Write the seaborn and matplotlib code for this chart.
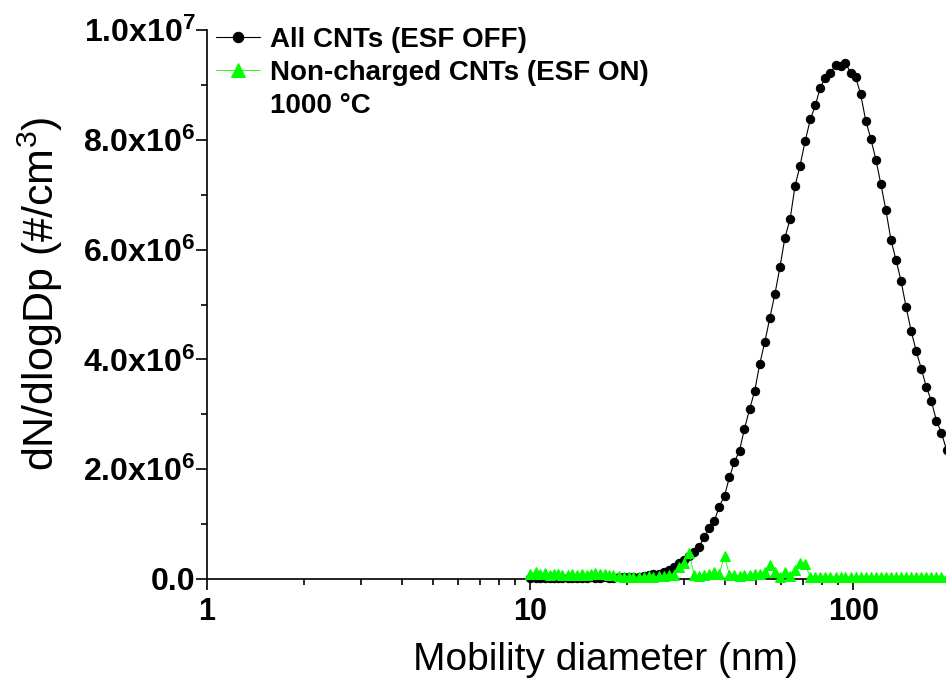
import numpy as np
import pandas as pd
import matplotlib
matplotlib.use('Agg')
import matplotlib.pyplot as plt
import seaborn as sns
from matplotlib.lines import Line2D
from matplotlib.ticker import AutoMinorLocator, LogLocator, NullFormatter

# --- data (dN/dlogDp in units of 1e6 #/cm3) ---
diameter = [10.0, 10.4, 10.7, 11.1, 11.5, 11.9, 12.2, 12.6, 13.1, 13.5,
            14.0, 14.5, 15.0, 15.4, 15.9, 16.5, 17.1, 17.6, 18.1, 18.8,
            19.5, 20.2, 20.9, 21.7, 22.5, 23.3, 24.1, 25.0, 25.9, 26.9,
            27.9, 28.9, 30.0, 31.1, 32.2, 33.4, 34.6, 35.9, 37.2, 38.5,
            40.0, 41.4, 42.9, 44.5, 46.1, 47.8, 49.6, 51.4, 53.3, 55.2,
            57.3, 59.4, 61.5, 63.8, 66.1, 68.5, 71.0, 73.7, 76.4, 79.1,
            82.0, 85.1, 88.2, 91.4, 94.7, 98.2, 101.8, 105.5, 109.4, 113.4,
            117.6, 121.9, 126.3, 131.0, 135.8, 140.7, 145.9, 151.2, 156.8, 162.5,
            168.5, 174.7, 181.1, 187.7, 194.6, 201.7]

esf_off = [0.02, 0.01, 0.02, 0.01, 0.02, 0.02, 0.01, 0.02, 0.01, 0.02,
           0.02, 0.01, 0.02, 0.03, 0.02, 0.02, 0.03, 0.02, 0.02, 0.03,
           0.03, 0.03, 0.04, 0.04, 0.05, 0.07, 0.09, 0.10, 0.13, 0.16,
           0.22, 0.29, 0.35, 0.42, 0.50, 0.59, 0.77, 0.92, 1.06, 1.32,
           1.52, 1.85, 2.13, 2.34, 2.74, 3.09, 3.43, 3.92, 4.32, 4.75,
           5.20, 5.69, 6.22, 6.55, 7.16, 7.53, 7.97, 8.37, 8.63, 8.95,
           9.13, 9.22, 9.36, 9.34, 9.40, 9.22, 9.14, 8.83, 8.35, 8.02,
           7.64, 7.19, 6.72, 6.17, 5.81, 5.43, 4.95, 4.52, 4.15, 3.83,
           3.50, 3.24, 2.88, 2.66, 2.35, 2.10]

esf_on = [0.10, 0.12, 0.09, 0.11, 0.08, 0.10, 0.09, 0.08, 0.07, 0.09,
          0.08, 0.09, 0.07, 0.10, 0.11, 0.09, 0.10, 0.08, 0.07, 0.05,
          0.04, 0.03, 0.04, 0.03, 0.04, 0.05, 0.04, 0.05, 0.06, 0.07,
          0.08, 0.22, 0.30, 0.47, 0.07, 0.06, 0.08, 0.10, 0.12, 0.10,
          0.42, 0.07, 0.08, 0.06, 0.07, 0.07, 0.10, 0.10, 0.12, 0.25,
          0.12, 0.04, 0.13, 0.05, 0.16, 0.30, 0.27, 0.04, 0.04, 0.04,
          0.04, 0.04, 0.04, 0.04, 0.04, 0.04, 0.04, 0.04, 0.04, 0.04,
          0.04, 0.04, 0.04, 0.04, 0.04, 0.04, 0.04, 0.04, 0.04, 0.04,
          0.04, 0.04, 0.04, 0.04, 0.04, 0.04]

ytick_vals = [0, 2e6, 4e6, 6e6, 8e6, 1e7]
ytick_labels = ['0.0', '2.0x10$^{6}$', '4.0x10$^{6}$', '6.0x10$^{6}$',
                '8.0x10$^{6}$', '1.0x10$^{7}$']
xtick_vals = [1, 10, 100]
xtick_labels = ['1', '10', '100']

df = pd.DataFrame({'d': diameter,
                   'off': np.array(esf_off) * 1e6,
                   'on': np.array(esf_on) * 1e6})

sns.set_style('ticks')
plt.rcParams['font.family'] = ['Liberation Sans', 'DejaVu Sans']
plt.rcParams['mathtext.fontset'] = 'custom'
plt.rcParams['mathtext.rm'] = 'Liberation Sans'
plt.rcParams['mathtext.bf'] = 'Liberation Sans:bold'
plt.rcParams['mathtext.default'] = 'bf'
for key in ['text.color', 'axes.labelcolor', 'xtick.color', 'ytick.color', 'axes.edgecolor']:
    plt.rcParams[key] = 'black'

fig = plt.figure(figsize=(9.46, 6.87), dpi=100)
# axis runs past the right edge of the picture, as in the reference
ax = fig.add_axes([207 / 946, 108 / 687, (1003 - 207) / 946, 549 / 687])

sns.lineplot(data=df, x='d', y='off', ax=ax, color='black', linewidth=0.8,
             marker='o', markersize=6, markeredgecolor='black',
             label='All CNTs (ESF OFF)', clip_on=False, zorder=3)
sns.lineplot(data=df.iloc[:-1], x='d', y='on', ax=ax, color='#00ff00', linewidth=0.6,
             marker='^', markersize=7.5, markeredgecolor='#00ff00',
             label='Non-charged CNTs (ESF ON)', clip_on=False, zorder=4)

ax.set_xscale('log')
ax.set_xlim(1, 291)
ax.set_ylim(0, 1e7)

ax.set_yticks(ytick_vals)
ax.set_yticklabels(ytick_labels, fontweight='bold', fontsize=23)
ax.yaxis.set_minor_locator(AutoMinorLocator(2))
ax.set_xticks(xtick_vals)
ax.set_xticklabels(xtick_labels, fontweight='bold', fontsize=22)
ax.xaxis.set_minor_locator(LogLocator(base=10, subs=np.arange(2, 10)))
ax.xaxis.set_minor_formatter(NullFormatter())

ax.tick_params(axis='both', which='major', direction='out', length=8, width=1.2, color='black')
ax.tick_params(axis='both', which='minor', direction='out', length=4.5, width=1.2, color='black')
ax.tick_params(axis='y', which='major', pad=0.5)
ax.tick_params(axis='x', which='major', pad=5)

for side in ['top', 'right']:
    ax.spines[side].set_visible(False)
for side in ['left', 'bottom']:
    ax.spines[side].set_linewidth(1.2)

ax.set_ylabel('dN/dlogDp (#/cm$^{\\mathrm{3}}$)', fontsize=31)
ax.set_xlabel('Mobility diameter (nm)', fontsize=28)
ax.yaxis.set_label_coords(-0.178, 0.52)
ax.xaxis.set_label_coords(0.5, -0.115)
ax.xaxis.label.set_va('top')

handles, labels = ax.get_legend_handles_labels()
handles.append(Line2D([], [], color='none'))
labels.append('1000 °C')
ax.legend(handles, labels, loc='upper left', bbox_to_anchor=(216 / 946, 1 - 27 / 687),
          bbox_transform=fig.transFigure, frameon=False, borderpad=0, borderaxespad=0,
          handlelength=1.6, handletextpad=0.35, labelspacing=0.25, markerscale=1.25,
          prop={'weight': 'bold', 'size': 20})

fig.savefig('out.png', dpi=100)
